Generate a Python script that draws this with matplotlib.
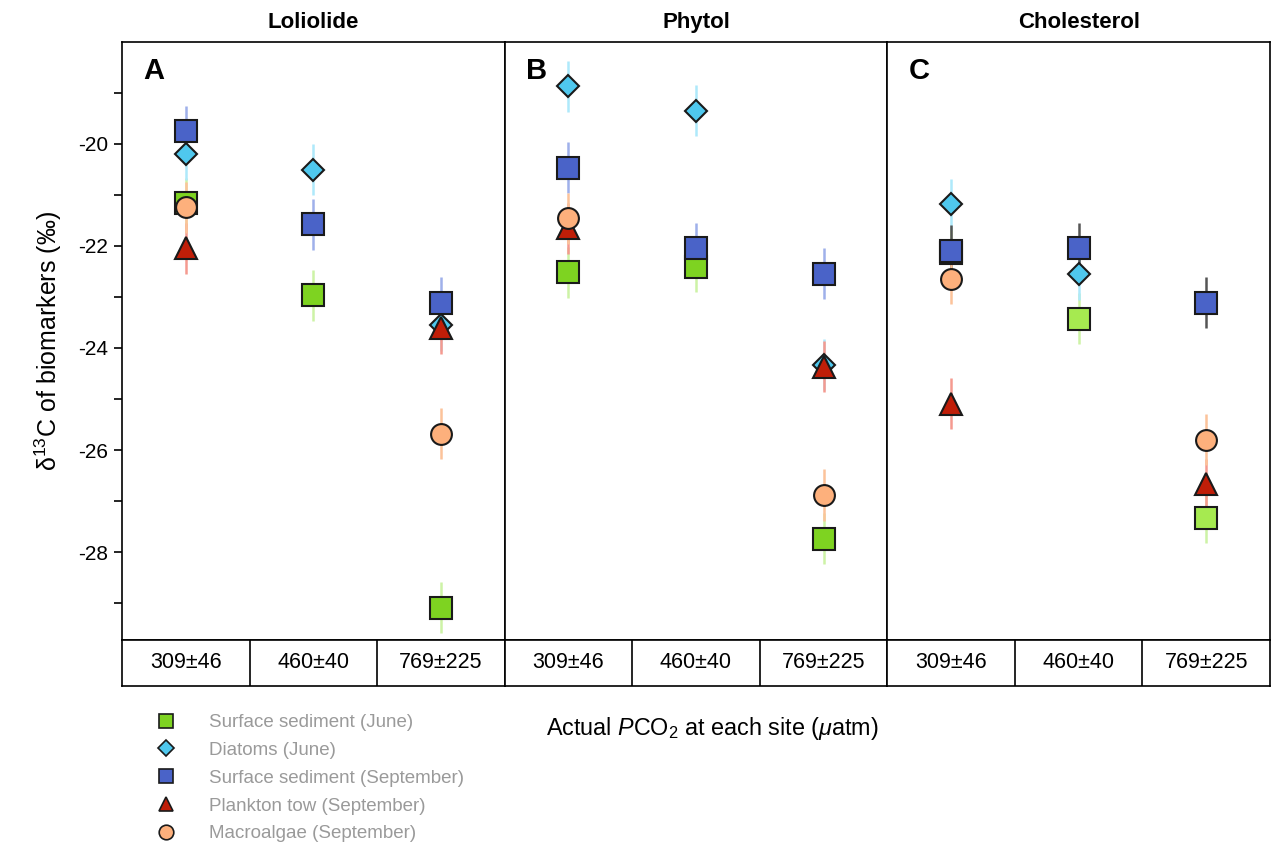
import matplotlib
matplotlib.use("Agg")
import matplotlib.pyplot as plt
from matplotlib.lines import Line2D

plt.rcParams['font.family'] = ['Liberation Sans', 'DejaVu Sans']
plt.rcParams['mathtext.fontset'] = 'custom'
plt.rcParams['mathtext.rm'] = 'Liberation Sans'
plt.rcParams['mathtext.it'] = 'Liberation Sans:italic'
plt.rcParams['mathtext.bf'] = 'Liberation Sans:bold'
plt.rcParams['axes.unicode_minus'] = False

panels = ["Loliolide", "Phytol", "Cholesterol"]
letters = ["A", "B", "C"]
sites = ["309±46", "460±40", "769±225"]
yticks_major = [-28, -26, -24, -22, -20]
yticks_minor = [-29, -27, -25, -23, -21, -19]

series = ["Surface sediment (June)", "Diatoms (June)", "Surface sediment (September)",
          "Plankton tow (September)", "Macroalgae (September)"]

# values[panel][site]; None = not shown
sed_june = [[-21.17, -22.97, -29.09], [-22.52, -22.41, -27.74], [-22.14, -23.43, -27.33]]
diatoms_june = [[-20.21, -20.51, -23.56], [-18.88, -19.36, -24.33], [-21.19, -22.56, None]]
sed_sept = [[-19.76, -21.58, -23.12], [-20.47, -22.05, -22.55], [-22.10, -22.05, -23.12]]
plankton_sept = [[-22.05, None, -23.61], [-21.66, None, -24.37], [-25.09, None, -26.67]]
macro_sept = [[-21.25, None, -25.68], [-21.46, None, -26.88], [-22.65, None, -25.80]]

err_sed_june = [[0.5, 0.5, 0.5], [0.5, 0.5, 0.5], [0.5, 0.5, 0.5]]
err_diatoms_june = [[0.5, 0.5, 0.5], [0.5, 0.5, 0.5], [0.5, 0.5, 0.5]]
err_sed_sept = [[0.5, 0.5, 0.5], [0.5, 0.5, 0.5], [0.5, 0.5, 0.5]]
err_plankton_sept = [[0.5, 0.5, 0.5], [0.5, 0.5, 0.5], [0.5, 0.5, 0.5]]
err_macro_sept = [[0.5, 0.5, 0.5], [0.5, 0.5, 0.5], [0.5, 0.5, 0.5]]

values = [sed_june, diatoms_june, sed_sept, plankton_sept, macro_sept]
errors = [err_sed_june, err_diatoms_june, err_sed_sept, err_plankton_sept, err_macro_sept]
markers = ['s', 'D', 's', '^', 'o']
msizes = [15.5, 11, 15.5, 15.5, 15]
leg_msizes = [10.5, 8, 10.5, 10.5, 10.5]
face = [['#7ed321', '#7ed321', '#a6ea50'], ['#4fc8ee'] * 3, ['#4a63c8'] * 3,
        ['#c01e08'] * 3, ['#fdb07c'] * 3]
ecols = [['#cdf3a6'] * 3, ['#aee9fb'] * 3, ['#9fb0ea', '#9fb0ea', '#555555'],
         ['#f59a90'] * 3, ['#fcc39a'] * 3]

fig = plt.figure(figsize=(12.74, 8.52), dpi=100)
L, R = 122 / 1274, 1270 / 1274
W = (R - L) / 3
top, bot = 1 - 42 / 852, 1 - 640 / 852
tbot = 1 - 686 / 852

for p in range(3):
    ax = fig.add_axes([L + p * W, bot, W, top - bot])
    ax.set_xlim(0, 3)
    ax.set_ylim(-29.72, -18.01)
    ax.set_xticks([])
    for s in range(5):
        for i in range(3):
            v = values[s][p][i]
            if v is None:
                continue
            ax.errorbar(i + 0.5, v, yerr=errors[s][p][i], fmt='none',
                        ecolor=ecols[s][p], elinewidth=1.8, capsize=0, zorder=2)
            ax.plot(i + 0.5, v, marker=markers[s], ms=msizes[s],
                    mfc=face[s][p], mec='#1a1a1a', mew=1.5, ls='none', zorder=3 + s)
    for sp in ax.spines.values():
        sp.set_linewidth(1.2)
    ax.text(0.055, 0.975, letters[p], transform=ax.transAxes, fontsize=21,
            fontweight='bold', va='top', ha='left')
    ax.text(0.5, 1.015, panels[p], transform=ax.transAxes, fontsize=16,
            fontweight='bold', ha='center', va='bottom')
    if p == 0:
        ax.set_yticks(yticks_major)
        ax.set_yticks(yticks_minor, minor=True)
        ax.tick_params(axis='y', which='major', length=6, width=1.2, labelsize=15, pad=4)
        ax.tick_params(axis='y', which='minor', length=6, width=1.2)
        ax.set_ylabel("δ$^{13}$C of biomarkers (‰)", fontsize=18, labelpad=10)
    else:
        ax.set_yticks([])

    tax = fig.add_axes([L + p * W, tbot, W, bot - tbot])
    tax.set_xlim(0, 3)
    tax.set_ylim(0, 1)
    tax.set_xticks([])
    tax.set_yticks([])
    for sp in tax.spines.values():
        sp.set_linewidth(1.2)
    for i in range(3):
        tax.text(i + 0.5, 0.5, sites[i], ha='center', va='center', fontsize=15.5)
        if i > 0:
            tax.axvline(i, color='black', lw=1.2)

fig.text(546 / 1274, 1 - 729 / 852, r"Actual $\mathit{P}$CO$_2$ at each site ($\mathit{\mu}$atm)",
         fontsize=16.8, ha='left', va='center')

handles = []
for s in range(5):
    handles.append(Line2D([], [], marker=markers[s], ms=leg_msizes[s],
                          mfc=face[s][0], mec='#1a1a1a', mew=1.2, ls='none'))
leg = fig.legend(handles, series, loc='upper left', bbox_to_anchor=(151 / 1274, 1 - 714 / 852),
                 frameon=False, prop={'size': 13.5},
                 labelspacing=0.57, handletextpad=1.5, handlelength=1.6,
                 borderaxespad=0, borderpad=0)
for t in leg.get_texts():
    t.set_color('#9a9a9a')

fig.savefig("out.png", dpi=100)
